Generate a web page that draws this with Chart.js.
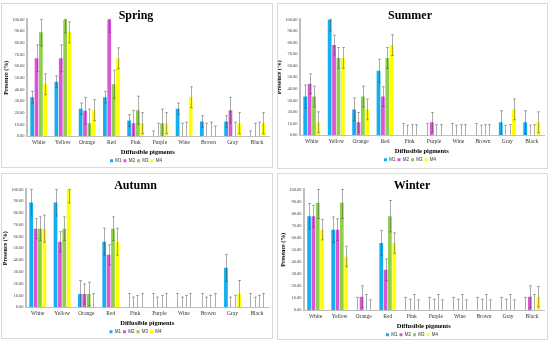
<!DOCTYPE html>
<html>
<head>
<meta charset="utf-8">
<script src="https://cdn.jsdelivr.net/npm/chart.js@4"></script>
<style>
  body { margin: 0; background: #fff; }
  .panel { position: absolute; border: 1px solid #d9d9d9; background: #fff; box-sizing: border-box; }
  canvas { display: block; }
</style>
</head>
<body>
<div class="panel" style="left:1px;top:3px;width:272px;height:165px"><canvas id="spring" width="270" height="163"></canvas></div>
<div class="panel" style="left:277px;top:3px;width:271px;height:166px"><canvas id="summer" width="269" height="164"></canvas></div>
<div class="panel" style="left:1px;top:173px;width:272px;height:166px"><canvas id="autumn" width="270" height="164"></canvas></div>
<div class="panel" style="left:277px;top:173px;width:271px;height:167px"><canvas id="winter" width="269" height="165"></canvas></div>
<script>
// pigment categories on the x axis
const categories = ['White','Yellow','Orange','Red','Pink','Purple','Wine','Brown','Gray','Black'];
const seriesNames = ['M1','M2','M3','M4'];
const seriesColors = ['#14aff0','#d957d6','#8fcf4b','#ffff00'];
const yTicks = [0,10,20,30,40,50,60,70,80,90,100];

// presence (%) per medium, one row per series M1..M4
const springVals = [
  [33.33, 46.67, 23.33, 33.33, 13.33, 0, 23.33, 12.5, 12.5, 0],
  [66.67, 66.67, 21.67, 100, 11.11, 0, 0, 0, 22.22, 0],
  [88.89, 100, 11.11, 44.44, 22.22, 11.11, 0, 0, 0, 0],
  [44.44, 88.89, 22.22, 66.67, 11.11, 11.11, 33.33, 0, 11.11, 11.11]
];
const springErr = [
  [5, 5, 5, 5, 5, 4.5, 5, 5, 5, 4.5],
  [11.5, 11.5, 11.5, 11, 11, 11, 11, 11, 11, 11],
  [11.5, 11.5, 12, 12, 12, 12, 12, 12, 12, 12],
  [9, 9, 9, 9, 9, 9, 9, 8.5, 9, 9]
];

const summerVals = [
  [33.33, 100, 22.22, 55.56, 0, 0, 0, 0, 11.11, 11.11],
  [44.44, 77.78, 11.11, 33.33, 0, 11.11, 0, 0, 0, 0],
  [33.33, 66.67, 33.33, 66.67, 0, 0, 0, 0, 0, 0],
  [11.11, 66.67, 22.22, 77.78, 0, 0, 0, 0, 22.22, 11.11]
];
const summerErr = [
  [10, 10, 10, 10, 10, 10, 10, 10, 10, 10],
  [8.5, 8.5, 8.5, 8.5, 8.5, 8.5, 8.5, 8.5, 8.5, 8.5],
  [9, 9, 9, 9, 9, 9, 9, 9, 9, 9],
  [9, 9, 9, 9, 9, 9, 9, 9, 9, 9]
];

const autumnVals = [
  [88.89, 88.89, 11.11, 55.56, 0, 0, 0, 0, 33.33, 0],
  [66.67, 55.56, 11.11, 44.44, 0, 0, 0, 0, 0, 0],
  [66.67, 66.67, 11.11, 66.67, 0, 0, 0, 0, 0, 0],
  [66.67, 100, 0, 55.56, 0, 0, 0, 0, 11.11, 0]
];
const autumnErr = [
  [11.5, 11.5, 11.5, 11.5, 11.5, 11.5, 11.5, 11.5, 11.5, 11.5],
  [8.5, 8.5, 8.5, 8.5, 8.5, 8.5, 8.5, 8.5, 8.5, 8.5],
  [10, 10, 10, 10, 10, 10, 10, 10, 10, 10],
  [11.5, 11.5, 11.5, 11.5, 11.5, 11.5, 11.5, 11.5, 11.5, 11.5]
];

const winterVals = [
  [77.78, 66.67, 0, 55.56, 0, 0, 0, 0, 0, 0],
  [77.78, 66.67, 11.11, 33.33, 0, 0, 0, 0, 0, 11.11],
  [88.89, 88.89, 0, 77.78, 0, 0, 0, 0, 0, 0],
  [66.67, 44.44, 0, 55.56, 0, 0, 0, 0, 0, 11.11]
];
const winterErr = [
  [10.5, 10.5, 10.5, 10.5, 10.5, 10.5, 10.5, 10.5, 10.5, 10.5],
  [9, 9, 9, 9, 9, 9, 9, 9, 9, 9],
  [13, 13, 13, 13, 13, 13, 13, 13, 13, 13],
  [8.5, 8.5, 8.5, 8.5, 8.5, 8.5, 8.5, 8.5, 8.5, 8.5]
];

const serif = 'Liberation Serif';

// draws the +/- error whiskers on top of each bar
const errorBars = {
  id: 'errorBars',
  afterDatasetsDraw(chart) {
    const ctx = chart.ctx;
    const y = chart.scales.y;
    ctx.save();
    ctx.strokeStyle = 'rgba(70,70,70,0.45)';
    ctx.lineWidth = 1;
    chart.data.datasets.forEach((ds, i) => {
      chart.getDatasetMeta(i).data.forEach((bar, j) => {
        const v = ds.data[j], e = ds.err[j];
        const yt = y.getPixelForValue(Math.min(100, v + e));
        const yb = y.getPixelForValue(Math.max(0, v - e));
        const x = Math.round(bar.x) + 0.5;
        ctx.beginPath();
        ctx.moveTo(x, yt); ctx.lineTo(x, yb);
        ctx.moveTo(x - 1.5, yt); ctx.lineTo(x + 1.5, yt);
        if (v - e > 0) { ctx.moveTo(x - 1.5, yb); ctx.lineTo(x + 1.5, yb); }
        ctx.stroke();
      });
    });
    ctx.restore();
  }
};

function makeChart(id, title, vals, errs, padLeft, padBottom) {
  const datasets = seriesNames.map((name, i) => ({
    label: name,
    data: vals[i],
    err: errs[i],
    backgroundColor: seriesColors[i],
    barPercentage: 0.85,
    categoryPercentage: 0.72
  }));
  return new Chart(document.getElementById(id), {
    type: 'bar',
    data: { labels: categories, datasets: datasets },
    plugins: [errorBars],
    options: {
      responsive: false,
      animation: false,
      layout: { padding: { left: padLeft, right: 3, top: 0, bottom: padBottom } },
      plugins: {
        title: { display: true, text: title, color: '#000',
          font: { family: serif, size: 12, weight: 'bold' }, padding: { top: 5, bottom: -4 } },
        legend: { position: 'bottom',
          labels: { boxWidth: 3, boxHeight: 3, padding: 2, color: '#333', font: { family: 'Liberation Sans', size: 4.5 } } },
        tooltip: { enabled: false }
      },
      scales: {
        x: {
          grid: { display: false, drawTicks: false },
          border: { color: '#bfbfbf', width: 1 },
          ticks: { color: '#333', padding: 3, maxRotation: 0, font: { family: serif, size: 5.5 } },
          title: { display: true, text: 'Diffusible pigments', color: '#000', padding: { top: 0, bottom: 0 },
            font: { family: serif, size: 6.5, weight: 'bold' } }
        },
        y: {
          min: 0, max: 100,
          afterBuildTicks: (s) => { s.ticks = yTicks.map(v => ({ value: v })); },
          grid: { display: false, drawTicks: false },
          border: { color: '#bfbfbf', width: 2 },
          ticks: { color: '#444', padding: 2, font: { family: serif, size: 4.5 },
            callback: (v) => v.toFixed(2) },
          title: { display: true, text: 'Presence (%)', color: '#000', padding: 0,
            font: { family: serif, size: 6, weight: 'bold' } }
        }
      }
    }
  });
}

makeChart('spring', 'Spring', springVals, springErr, 1, -6);
makeChart('summer', 'Summer', summerVals, summerErr, -2, -4);
makeChart('autumn', 'Autumn', autumnVals, autumnErr, 0, -6);
makeChart('winter', 'Winter', winterVals, winterErr, 2, -8);
</script>
</body>
</html>
